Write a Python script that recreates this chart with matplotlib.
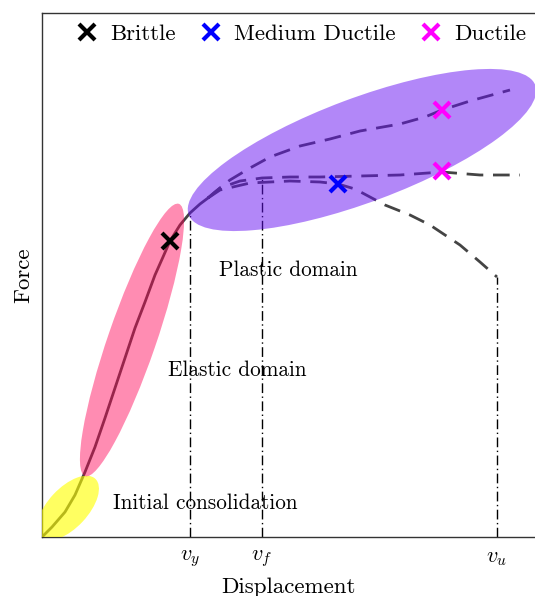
import numpy as np
import matplotlib
matplotlib.use("Agg")
import matplotlib.pyplot as plt
from matplotlib.patches import Ellipse
from matplotlib.lines import Line2D

plt.rcParams['font.family'] = 'serif'
plt.rcParams['font.serif'] = ['cmr10', 'DejaVu Serif']
plt.rcParams['mathtext.fontset'] = 'cm'
plt.rcParams['axes.unicode_minus'] = False

# shared curve up to the end of the elastic part
base_x = [0.00, 0.10, 0.23, 0.33, 0.43, 0.53, 0.63, 0.73, 0.83, 0.93, 1.03, 1.13, 1.21, 1.28, 1.38, 1.48, 1.58, 1.66]
base_y = [0.00, 0.10, 0.25, 0.42, 0.65, 0.90, 1.19, 1.49, 1.79, 2.09, 2.35, 2.62, 2.80, 2.96, 3.12, 3.24, 3.33, 3.39]

# plastic branches
ductile_up_x = [1.66, 1.73, 1.88, 2.08, 2.28, 2.58, 2.88, 3.18, 3.58, 3.83, 4.00, 4.28, 4.68]
ductile_up_y = [3.39, 3.45, 3.57, 3.69, 3.80, 3.91, 3.98, 4.06, 4.13, 4.20, 4.27, 4.36, 4.47]

ductile_flat_x = [1.66, 1.78, 1.98, 2.20, 2.48, 2.78, 3.18, 3.58, 4.00, 4.38, 4.78]
ductile_flat_y = [3.39, 3.49, 3.56, 3.59, 3.60, 3.60, 3.61, 3.62, 3.65, 3.62, 3.62]

medium_x = [1.66, 1.78, 2.08, 2.48, 2.78, 2.96, 3.13, 3.28, 3.43, 3.68, 3.88, 4.03, 4.18, 4.38, 4.55]
medium_y = [3.39, 3.47, 3.54, 3.56, 3.55, 3.53, 3.48, 3.40, 3.32, 3.22, 3.12, 3.02, 2.92, 2.75, 2.60]

# failure points
brittle_pt = (1.28, 2.96)
medium_pt = (2.96, 3.53)
ductile_pts_x = [4.00, 4.00]
ductile_pts_y = [4.27, 3.66]

# characteristic displacements and matching force
v_pos = [1.48, 2.20, 4.55]
v_top = [3.22, 3.59, 2.60]
v_labels = [r'$v_y$', r'$v_f$', r'$v_u$']

fig = plt.figure(figsize=(5.35, 5.96), dpi=100)
ax = fig.add_axes([42 / 535, 59 / 596, 493 / 535, 524 / 596])

line_col = '#444444'
ax.plot(base_x, base_y, color=line_col, lw=2, zorder=2)
for xs, ys in [(ductile_up_x, ductile_up_y), (ductile_flat_x, ductile_flat_y), (medium_x, medium_y)]:
    ax.plot(xs, ys, color=line_col, lw=2, ls=(0, (6, 3.5)), zorder=2)

for xv, yt in zip(v_pos, v_top):
    ax.plot([xv, xv], [0, yt], color='black', lw=1, ls=(0, (7, 2.5, 1, 2.5)), zorder=1)

# domains
ax.add_patch(Ellipse((0.26, 0.29), 0.80, 0.40, angle=47, color='yellow', alpha=0.62, lw=0, zorder=3))
ax.add_patch(Ellipse((0.90, 1.97), 2.88, 0.48, angle=71, color='#ff0055', alpha=0.45, lw=0, zorder=3))
ax.add_patch(Ellipse((3.20, 3.87), 3.70, 1.04, angle=20.5, color='#6610f2', alpha=0.5, lw=0, zorder=3))

ax.plot(*brittle_pt, marker='x', color='black', ms=12, mew=3, ls='none', zorder=5)
ax.plot(*medium_pt, marker='x', color='blue', ms=12, mew=3, ls='none', zorder=5)
ax.plot(ductile_pts_x, ductile_pts_y, marker='x', color='magenta', ms=12, mew=3, ls='none', zorder=5)

ax.text(2.46, 2.67, 'Plastic domain', fontsize=15.3, ha='center', va='center')
ax.text(1.95, 1.67, 'Elastic domain', fontsize=15.3, ha='center', va='center')
ax.text(1.63, 0.34, 'Initial consolidation', fontsize=15.3, ha='center', va='center')

handles = [Line2D([], [], marker='x', color=c, ms=11, mew=3, ls='none') for c in ['black', 'blue', 'magenta']]
ax.legend(handles, ['Brittle', 'Medium Ductile', 'Ductile'], loc='upper center', ncol=3,
          frameon=False, fontsize=16.5, handletextpad=0.3, columnspacing=0.85,
          handlelength=1.4, bbox_to_anchor=(0.52, 1.018))

ax.set_xlim(0, 4.93)
ax.set_ylim(0, 5.24)
ax.set_xticks(v_pos)
ax.set_xticklabels(v_labels, fontsize=16)
ax.set_yticks([])
ax.tick_params(axis='x', length=0, pad=8)
ax.set_xlabel('Displacement', fontsize=16.5, labelpad=6)
ax.set_ylabel('Force', fontsize=16.5, labelpad=6)
ax.spines['right'].set_visible(False)
for s in ['left', 'bottom', 'top']:
    ax.spines[s].set_color('#333333')
    ax.spines[s].set_linewidth(1)

fig.savefig('out.png', dpi=100)
